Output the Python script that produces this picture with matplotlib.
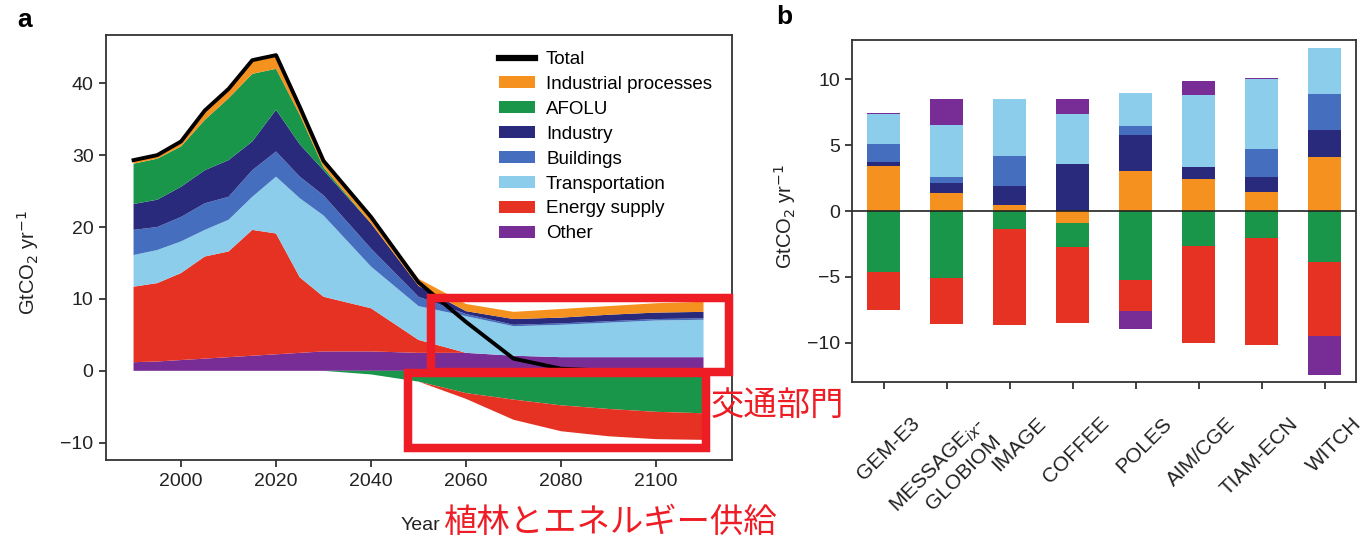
import numpy as np
import matplotlib
matplotlib.use("Agg")
import matplotlib.pyplot as plt
from matplotlib.patches import Patch, Rectangle
from matplotlib.lines import Line2D
from matplotlib.transforms import ScaledTranslation

plt.rcParams['font.family'] = ['Liberation Sans', 'DejaVu Sans']

# ---- panel a: emissions by sector over time (GtCO2/yr) ----
years = [1990, 1995, 2000, 2005, 2010, 2015, 2020, 2025, 2030, 2040,
         2050, 2060, 2070, 2080, 2090, 2100, 2110]
other_a = [1.2, 1.3, 1.5, 1.7, 1.9, 2.1, 2.3, 2.5, 2.7, 2.7, 2.5, 2.5, 2.1, 1.9, 1.9, 1.9, 1.9]
energy_a = [10.5, 10.9, 12.1, 14.2, 14.7, 17.5, 16.8, 10.5, 7.6, 6.0, 1.8, -0.8, -2.8, -3.6, -3.8, -3.8, -3.7]
transport_a = [4.4, 4.6, 4.4, 3.7, 4.4, 4.6, 7.9, 11.0, 11.3, 5.8, 4.7, 5.1, 4.1, 4.5, 4.8, 5.1, 5.2]
buildings_a = [3.5, 3.2, 3.4, 3.7, 3.2, 3.7, 3.5, 3.0, 2.8, 2.5, 1.3, 0.3, 0.2, 0.2, 0.2, 0.2, 0.2]
industry_a = [3.6, 3.8, 4.2, 4.6, 5.1, 4.0, 5.8, 4.5, 3.5, 3.5, 1.5, 0.4, 0.8, 0.8, 0.9, 0.9, 0.9]
afolu_a = [5.6, 5.7, 5.6, 7.0, 8.6, 9.4, 5.7, 4.1, 0.4, -0.5, -1.5, -3.1, -4.0, -4.8, -5.3, -5.7, -5.9]
ip_a = [0.3, 0.4, 0.5, 1.3, 1.1, 1.7, 1.7, 0.9, 0.8, 0.9, 1.0, 1.0, 1.0, 1.2, 1.2, 1.3, 1.4]
total_a = [29.3, 30.0, 31.9, 36.2, 39.2, 43.2, 43.9, 36.7, 29.2, 21.4, 12.3, 6.8, 1.7, 0.3, 0.0, -0.1, -0.2]

# ---- panel b: sector values per model ----
models = ['GEM-E3', 'MESSAGE$_{ix}$-\nGLOBIOM', 'IMAGE', 'COFFEE', 'POLES',
          'AIM/CGE', 'TIAM-ECN', 'WITCH']
ip_b = [3.43, 1.34, 0.45, -0.93, 3.06, 2.40, 1.41, 4.11]
afolu_b = [-4.60, -5.10, -1.36, -1.82, -5.28, -2.65, -2.02, -3.89]
industry_b = [0.27, 0.76, 1.45, 3.60, 2.70, 0.91, 1.19, 2.03]
buildings_b = [1.38, 0.50, 2.30, 0.0, 0.70, 0.0, 2.10, 2.72]
transport_b = [2.32, 3.97, 4.34, 3.80, 2.50, 5.48, 5.30, 3.54]
energy_b = [-2.90, -3.48, -7.34, -5.75, -2.30, -7.38, -8.18, -5.63]
other_b = [0.08, 1.97, 0.0, 1.14, -1.36, 1.13, 0.13, -2.96]

labels = ['Industrial processes', 'AFOLU', 'Industry', 'Buildings',
          'Transportation', 'Energy supply', 'Other']
colors = ['#F5911E', '#19964A', '#2A2A7D', '#466EBE', '#8CCDEB', '#E63223', '#782D96']

W, H = 1367, 545
fig = plt.figure(figsize=(W / 100, H / 100), dpi=100)


def px_box(l, t, r, b):
    return [l / W, 1 - b / H, (r - l) / W, (b - t) / H]


spine_col = '#333333'

# ---------------- panel a ----------------
ax = fig.add_axes(px_box(106, 35, 732, 460))
yrs = np.array(years)
series_a = [ip_a, afolu_a, industry_a, buildings_a, transport_a, energy_a, other_a]

# positives stacked with "Other" at the bottom
base = np.zeros(len(yrs))
for s, c in reversed(list(zip(series_a, colors))):
    p = np.clip(np.array(s), 0, None)
    if p.any():
        ax.fill_between(yrs, base, base + p, facecolor=c, lw=0)
    base = base + p
# negatives stacked downwards in legend order
base = np.zeros(len(yrs))
for s, c in zip(series_a, colors):
    n = np.clip(np.array(s), None, 0)
    if n.any():
        ax.fill_between(yrs, base + n, base, facecolor=c, lw=0)
    base = base + n
ax.plot(yrs, total_a, color='black', lw=2.8, zorder=3, solid_joinstyle='round')

ax.set_xlim(1984.2, 2116)
ax.set_ylim(-12.4, 46.7)
ax.set_xticks([2000, 2020, 2040, 2060, 2080, 2100])
ax.set_yticks([-10, 0, 10, 20, 30, 40])
ax.tick_params(direction='out', length=5, width=1.3, labelsize=14, color=spine_col,
               labelcolor='#222222', pad=4)
for sp in ax.spines.values():
    sp.set_color(spine_col)
    sp.set_linewidth(1.3)

handles = [Line2D([0], [0], color='black', lw=4.5)]
handles += [Patch(facecolor=c, edgecolor='none') for c in colors]
ax.legend(handles, ['Total'] + labels, loc='upper left', bbox_to_anchor=(0.628, 0.962),
          frameon=False, fontsize=13.5, handlelength=1.9, handleheight=0.6,
          handletextpad=0.6, labelspacing=0.42, borderpad=0, borderaxespad=0)

# ---------------- panel b ----------------
bx = fig.add_axes(px_box(852, 40, 1356, 382))
xs = np.arange(len(models))
series_b = [ip_b, afolu_b, industry_b, buildings_b, transport_b, energy_b, other_b]
pos = np.zeros(len(xs))
neg = np.zeros(len(xs))
for s, c in zip(series_b, colors):
    v = np.array(s)
    p = np.clip(v, 0, None)
    n = np.clip(v, None, 0)
    bx.bar(xs, p, bottom=pos, width=0.51, color=c, lw=0)
    bx.bar(xs, n, bottom=neg, width=0.51, color=c, lw=0)
    pos = pos + p
    neg = neg + n
bx.axhline(0, color='#222222', lw=1.2)
bx.set_xlim(-0.5, 7.5)
bx.set_ylim(-13, 13)
bx.set_yticks([-10, -5, 0, 5, 10])
bx.set_xticks(xs)
bx.set_xticklabels(models, rotation=45, ha='right', va='top', rotation_mode='anchor',
                   multialignment='right')
bx.tick_params(direction='out', length=5, width=1.3, labelsize=14, color=spine_col,
               labelcolor='#222222')
bx.tick_params(axis='x', pad=0, labelsize=15)
off = ScaledTranslation(0.27, -0.25, fig.dpi_scale_trans)
for lab in bx.get_xticklabels():
    lab.set_transform(lab.get_transform() + off)
for sp in bx.spines.values():
    sp.set_color(spine_col)
    sp.set_linewidth(1.3)


def ftext(x, y, s, **kw):
    fig.text(x / W, 1 - y / H, s, **kw)


ftext(28, 262, 'GtCO$_2$ yr$^{-1}$', rotation=90, ha='center', va='center', fontsize=14.5,
      color='#222222')
ftext(785, 216, 'GtCO$_2$ yr$^{-1}$', rotation=90, ha='center', va='center', fontsize=14.5,
      color='#222222')
ftext(17, 20, 'a', fontsize=19, fontweight='bold', ha='left', va='center')
ftext(776, 17, 'b', fontsize=19, fontweight='bold', ha='left', va='center')
ftext(440, 526, 'Year', fontsize=14, ha='right', va='center', color='#222222')

red = '#EE1C25'
ftext(444, 522, '植林とエネルギー供給', fontsize=24, ha='left', va='center', color=red,
      family=['Noto Sans CJK JP', 'DejaVu Sans'])
ftext(711, 405, '交通部門', fontsize=24, ha='left', va='center', color=red,
      family=['Noto Sans CJK JP', 'DejaVu Sans'])

# annotation boxes
for l, t, r, b in [(431, 297.5, 729, 372), (407.5, 372.5, 706, 447.5)]:
    fig.add_artist(Rectangle((l / W, 1 - b / H), (r - l) / W, (b - t) / H,
                             transform=fig.transFigure, fill=False, edgecolor=red,
                             lw=6.1, zorder=10))

fig.savefig('out.png', dpi=100)
